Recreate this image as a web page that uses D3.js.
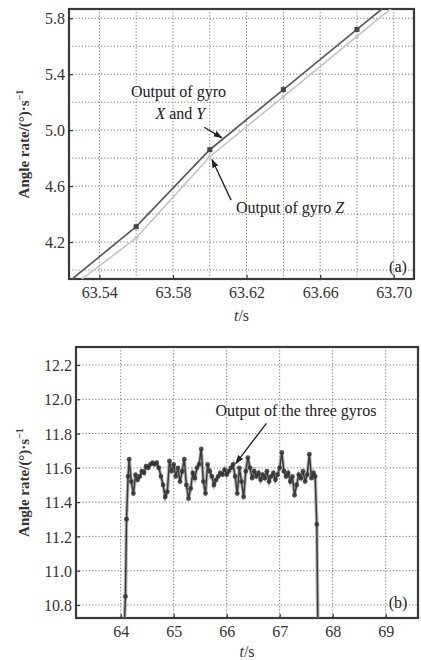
<!DOCTYPE html>
<html><head><meta charset="utf-8">
<script src="https://cdn.jsdelivr.net/npm/d3@7/dist/d3.min.js"></script>
<style>body{margin:0;background:#fff}svg{display:block}svg text{font-family:"Liberation Serif","DejaVu Serif",serif !important}</style>
</head><body>
<svg id="c" width="421" height="660" style="font-family:'Liberation Serif',serif"></svg>
<script>
// ---- Panel (a) data ----
const aTimesXY = [63.52, 63.56, 63.60, 63.64, 63.68, 63.72];
const aValsXY  = [3.88, 4.31, 4.86, 5.29, 5.72, 6.15];
const aTimesZ  = [63.52, 63.56, 63.60, 63.64, 63.68, 63.72];
const aValsZ   = [3.83, 4.23, 4.81, 5.24, 5.67, 6.10];
const aXTicks  = [63.54, 63.58, 63.62, 63.66, 63.70];
const aXGrid   = [63.54, 63.56, 63.58, 63.60, 63.62, 63.64, 63.66, 63.68, 63.70];
const aYTicks  = [4.2, 4.6, 5.0, 5.4, 5.8];
const aYGrid   = [4.0, 4.2, 4.4, 4.6, 4.8, 5.0, 5.2, 5.4, 5.6, 5.8];

// ---- Panel (b) data ----
const bTimes = [64.07,64.09,64.11,64.14,64.16,64.20,64.24,64.28,64.32,64.36,64.40,64.44,64.48,64.52,64.56,64.60,64.64,64.68,64.72,64.76,64.80,64.84,64.88,64.92,64.96,65.00,65.04,65.08,65.12,65.16,65.20,65.24,65.28,65.32,65.36,65.40,65.44,65.48,65.52,65.56,65.60,65.64,65.68,65.72,65.76,65.80,65.84,65.88,65.92,65.96,66.00,66.04,66.08,66.12,66.16,66.20,66.24,66.28,66.32,66.36,66.40,66.44,66.48,66.52,66.56,66.60,66.64,66.68,66.72,66.76,66.80,66.84,66.88,66.92,66.96,67.00,67.04,67.08,67.12,67.16,67.20,67.24,67.28,67.32,67.36,67.40,67.44,67.48,67.52,67.56,67.60,67.64,67.67,67.70,67.72];
const bVals  = [10.70,10.85,11.30,11.55,11.65,11.52,11.45,11.56,11.53,11.55,11.58,11.57,11.61,11.60,11.62,11.63,11.62,11.63,11.60,11.55,11.50,11.43,11.46,11.64,11.58,11.62,11.55,11.60,11.52,11.58,11.65,11.50,11.42,11.48,11.57,11.54,11.60,11.62,11.71,11.52,11.45,11.62,11.58,11.55,11.50,11.53,11.55,11.57,11.56,11.59,11.56,11.58,11.60,11.62,11.55,11.45,11.60,11.52,11.43,11.58,11.66,11.60,11.54,11.58,11.55,11.57,11.53,11.56,11.54,11.58,11.52,11.55,11.57,11.53,11.56,11.60,11.69,11.58,11.55,11.57,11.52,11.55,11.44,11.50,11.56,11.54,11.58,11.52,11.56,11.68,11.54,11.57,11.55,11.27,10.70];
const bXTicks = [64, 65, 66, 67, 68, 69];
const bYTicks = [10.8, 11.0, 11.2, 11.4, 11.6, 11.8, 12.0, 12.2];

const SERIF = "'Liberation Serif', 'Times New Roman', serif";
const svg = d3.select("#c");
svg.append("defs").append("marker").attr("id","arr").attr("viewBox","0 0 10 10")
  .attr("refX",9).attr("refY",5).attr("markerWidth",7).attr("markerHeight",7)
  .attr("orient","auto").append("path").attr("d","M0,1.5L10,5L0,8.5Z").attr("fill","#222");

function panel(o){
  const g = svg.append("g");
  const x = d3.scaleLinear().domain(o.xd).range([o.l, o.r]);
  const y = d3.scaleLinear().domain(o.yd).range([o.b, o.t]);
  const cid = "clip"+o.id;
  g.append("clipPath").attr("id",cid).append("rect").attr("x",o.l).attr("y",o.t).attr("width",o.r-o.l).attr("height",o.b-o.t);
  g.append("g").selectAll("line").data(o.xGrid).join("line")
    .attr("x1",d=>x(d)).attr("x2",d=>x(d)).attr("y1",o.t).attr("y2",o.b)
    .attr("stroke","#777").attr("stroke-width",1).attr("stroke-dasharray","1.2,2");
  g.append("g").selectAll("line").data(o.yGrid).join("line")
    .attr("y1",d=>y(d)).attr("y2",d=>y(d)).attr("x1",o.l).attr("x2",o.r)
    .attr("stroke","#777").attr("stroke-width",1).attr("stroke-dasharray","1.2,2");
  const xa = g.append("g").attr("transform",`translate(0,${o.b})`)
    .call(d3.axisBottom(x).tickValues(o.xTicks).tickSize(-4).tickPadding(8).tickFormat(o.xFmt));
  const ya = g.append("g").attr("transform",`translate(${o.l},0)`)
    .call(d3.axisLeft(y).tickValues(o.yTicks).tickSize(-4).tickPadding(4).tickFormat(o.yFmt));
  [xa,ya].forEach(a=>{
    a.attr("font-family",null).style("font-family",SERIF);
    a.select(".domain").remove();
    a.selectAll(".tick line").attr("stroke","#333").attr("stroke-width",1.2);
    a.selectAll(".tick text").attr("font-size",16).attr("fill","#333").style("font-family",SERIF);
  });
  ya.selectAll(".tick text").attr("dy","0.35em");
  g.append("rect").attr("x",o.l).attr("y",o.t).attr("width",o.r-o.l).attr("height",o.b-o.t)
    .attr("fill","none").attr("stroke","#3a3a3a").attr("stroke-width",2.2);
  const yl = g.append("text").attr("transform",`translate(${o.ylx},${(o.t+o.b)/2}) rotate(-90)`)
    .attr("text-anchor","middle").attr("font-size",15).attr("font-weight","bold").attr("fill","#333").style("font-family",SERIF);
  yl.append("tspan").text("Angle rate/(°)·s");
  yl.append("tspan").attr("dy",-6).attr("font-size",10).text("−1");
  const xl = g.append("text").attr("x",(o.l+o.r)/2).attr("y",o.xly).attr("text-anchor","middle")
    .attr("font-size",16).attr("fill","#333").style("font-family",SERIF);
  xl.append("tspan").attr("font-style","italic").text("t");
  xl.append("tspan").text("/s");
  return {g,x,y,cid};
}

// ---- Panel (a) ----
const A = panel({id:"a", l:69, r:414, t:9, b:279, xd:[63.5235,63.711], yd:[3.936,5.866],
  xGrid:aXGrid, yGrid:aYGrid, xTicks:aXTicks, yTicks:aYTicks,
  xFmt:d3.format(".2f"), yFmt:d3.format(".1f"), ylx:29, xly:321});
const la = d3.line().x(d=>A.x(d[0])).y(d=>A.y(d[1]));
const ca = A.g.append("g").attr("clip-path",`url(#${A.cid})`);
const zPts = aTimesZ.map((t,i)=>[t,aValsZ[i]]);
const xyPts = aTimesXY.map((t,i)=>[t,aValsXY[i]]);
ca.append("path").datum(zPts).attr("d",la).attr("fill","none").attr("stroke","#c4c4c4").attr("stroke-width",1.6);
ca.selectAll("circle.z").data(zPts).join("circle").attr("class","z")
  .attr("cx",d=>A.x(d[0])).attr("cy",d=>A.y(d[1])).attr("r",2).attr("fill","#c8c8c8");
ca.append("path").datum(xyPts).attr("d",la).attr("fill","none").attr("stroke","#5a5a5a").attr("stroke-width",1.7);
ca.selectAll("rect.xy").data(xyPts).join("rect").attr("class","xy")
  .attr("x",d=>A.x(d[0])-2.5).attr("y",d=>A.y(d[1])-2.5).attr("width",5).attr("height",5).attr("fill","#444");

function ann(P, t, v, parts, anchor){
  const tx = P.g.append("text").attr("x",P.x(t)).attr("y",P.y(v)).attr("text-anchor",anchor||"middle")
    .attr("font-size",16).attr("fill","#222").style("font-family",SERIF);
  parts.forEach(p=>tx.append("tspan").attr("font-style",p[1]?"italic":"normal").text(p[0]));
}
function arrow(P, t1,v1,t2,v2){
  P.g.append("line").attr("x1",P.x(t1)).attr("y1",P.y(v1)).attr("x2",P.x(t2)).attr("y2",P.y(v2))
    .attr("stroke","#222").attr("stroke-width",1.3).attr("marker-end","url(#arr)");
}
ann(A, 63.583, 5.235, [["Output of gyro",0]]);
ann(A, 63.584, 5.078, [["X",1],[" and ",0],["Y",1]]);
arrow(A, 63.597, 5.021, 63.6066, 4.945);
ann(A, 63.6143, 4.405, [["Output of gyro ",0],["Z",1]], "start");
arrow(A, 63.6116, 4.50, 63.6012, 4.79);
ann(A, 63.7023, 3.985, [["(a)",0]]);

// ---- Panel (b) ----
const B = panel({id:"b", l:76, r:418, t:347, b:618, xd:[63.157,69.61], yd:[10.724,12.305],
  xGrid:bXTicks, yGrid:bYTicks, xTicks:bXTicks, yTicks:bYTicks,
  xFmt:d3.format("d"), yFmt:d3.format(".1f"), ylx:29, xly:657});
const bPts = bTimes.map((t,i)=>[t,bVals[i]]);
const lb = d3.line().x(d=>B.x(d[0])).y(d=>B.y(d[1]));
const cb = B.g.append("g").attr("clip-path",`url(#${B.cid})`);
cb.append("path").datum(bPts).attr("d",lb).attr("fill","none").attr("stroke","#9a9a9a").attr("stroke-width",3.6).attr("opacity",0.7);
cb.append("path").datum(bPts).attr("d",lb).attr("fill","none").attr("stroke","#3a3a3a").attr("stroke-width",1.5);
cb.selectAll("circle").data(bPts).join("circle")
  .attr("cx",d=>B.x(d[0])).attr("cy",d=>B.y(d[1])).attr("r",2.4).attr("fill","#333").attr("opacity",0.85);
ann(B, 67.308, 11.90, [["Output of the three gyros",0]]);
arrow(B, 66.75, 11.86, 66.17, 11.625);
ann(B, 69.232, 10.78, [["(b)",0]]);
</script>
</body></html>
